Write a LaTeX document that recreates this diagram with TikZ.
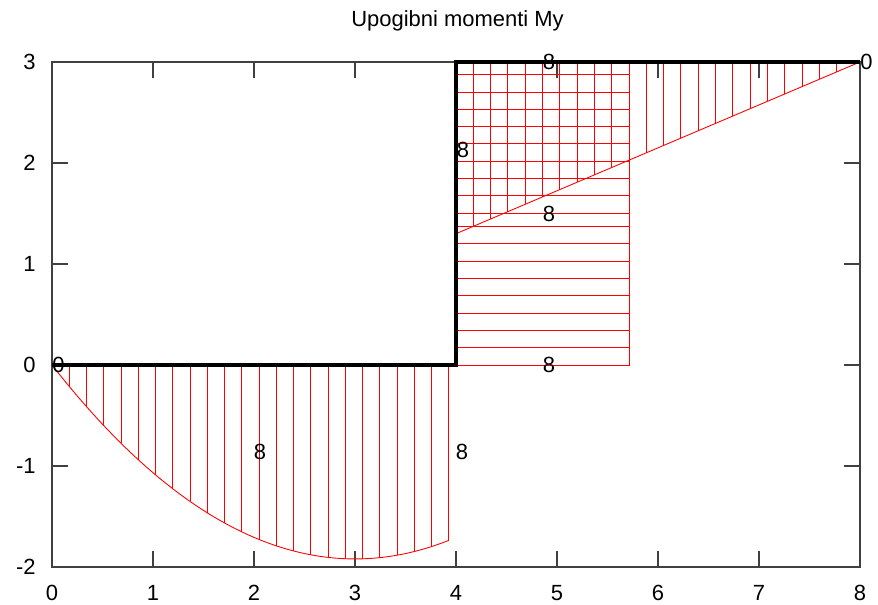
\documentclass[tikz,border=0pt]{standalone}
\usepackage{fontspec}
\setmainfont{Liberation Sans}
\usetikzlibrary{calc}

\begin{document}
\begin{tikzpicture}[x=2.02cm, y=2.02cm,
    frame/.style={draw=black!75, line width=0.6pt},
    tickmark/.style={draw=black!75, line width=0.6pt},
    beam/.style={draw=black, line width=2.4pt, line join=miter},
    hatch/.style={draw=red, line width=0.5pt},
    lbl/.style={font=\fontsize{12.5}{15}\selectfont, inner sep=0pt},
]
\useasboundingbox (-0.5149,-2.3762) rectangle (8.1782,3.6139);

% Title
\node[lbl] (title) at (4.015, 3.406) {Upogibni momenti My};

% Frame and ticks
\draw[frame] (0,-2) rectangle (8,3);
\foreach \x in {0,...,8} {
    \draw[tickmark] (\x,-2) -- ++(0,0.16);
    \draw[tickmark] (\x,3) -- ++(0,-0.16);
    \node[lbl] (xl\x) at (\x,-2.257) {\x};
}
\foreach \y in {-2,...,3} {
    \draw[tickmark] (0,\y) -- ++(0.16,0);
    \draw[tickmark] (8,\y) -- ++(-0.16,0);
    \node[lbl, anchor=east] (yl\y) at (-0.158,\y) {\y};
}

% Diagram on the lower member (parabola)
\draw[hatch] plot[domain=0:3.93, samples=60] (\x, {0.2133*\x*\x-1.28*\x});
\foreach \k in {1,...,23} {
    \pgfmathsetmacro\xx{\k*3.93/23}
    \draw[hatch] (\xx,0) -- (\xx,{0.2133*\xx*\xx-1.28*\xx});
}

% Diagram on the vertical member (constant)
\draw[hatch] (4,0) rectangle (5.713,3);
\foreach \k in {1,...,8}
    \draw[hatch] (4,\k*0.1713) -- (5.713,\k*0.1713);
\foreach \k in {0,...,8}
    \draw[hatch] (4,2.874-\k*0.1713) -- (5.713,2.874-\k*0.1713);

% Diagram on the upper member (linear)
\draw[hatch] (4,1.3) -- (8,3);
\foreach \k in {1,...,22} {
    \pgfmathsetmacro\xx{4+\k*0.1713}
    \draw[hatch] (\xx,3) -- (\xx,{1.3+0.425*(\xx-4)});
}

% Frame of the structure
\draw[beam] (0,0) -- (4,0) -- (4,3) -- (8,3);

% Values
\node[lbl, anchor=west] (v0a) at (0,0) {0};
\node[lbl, anchor=west] (v0b) at (8,3) {0};
\node[lbl] (v1) at (2.06,-0.86) {8};
\node[lbl] (v2) at (4.06,-0.86) {8};
\node[lbl] (v3) at (4.92,0) {8};
\node[lbl] (v4) at (4.92,1.5) {8};
\node[lbl] (v5) at (4.07,2.13) {8};
\node[lbl] (v6) at (4.92,3) {8};

\end{tikzpicture}
\end{document}
